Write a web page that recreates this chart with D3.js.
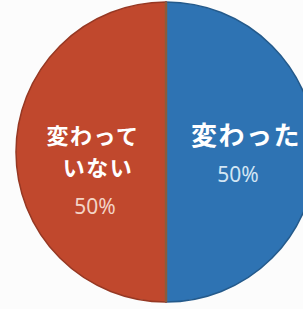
<!DOCTYPE html>
<html>
<head>
<meta charset="utf-8">
<script src="https://cdn.jsdelivr.net/npm/d3@7"></script>
<style>
  html, body { margin: 0; padding: 0; background: #fcfcfc; }
  svg { display: block; }
</style>
</head>
<body>
<div id="chart"></div>
<script>
// data
const categories = ["変わった", "変わっていない"];
const values = [50, 50];
const labelLines = [["変わった"], ["変わって", "いない"]];
const colors = ["#2e73b3", "#c0482d"];
const pctColors = ["#d3e6f4", "#f3d4c6"];

const width = 303, height = 309;
const cx = 166, cy = 152, radius = 150;

const svg = d3.select("#chart")
    .append("svg")
    .attr("width", width)
    .attr("height", height);

const g = svg.append("g")
    .attr("transform", "translate(" + cx + "," + cy + ")");

const pie = d3.pie().sort(null).value(d => d.value);
const data = pie(categories.map((c, i) => ({ name: c, value: values[i], i: i })));

const arc = d3.arc().innerRadius(0).outerRadius(radius);
const labelArc = d3.arc().innerRadius(0).outerRadius(152);

g.selectAll("path.slice")
    .data(data)
    .enter()
    .append("path")
    .attr("class", "slice")
    .attr("d", arc)
    .attr("fill", d => colors[d.data.i])
    .attr("stroke", d => d3.color(colors[d.data.i]).darker(0.7))
    .attr("stroke-width", 1.5);

// darker seam between the halves
g.append("line")
    .attr("x1", 0).attr("x2", 0)
    .attr("y1", -radius).attr("y2", radius)
    .attr("stroke", "#8a5c3c")
    .attr("stroke-width", 2.5);

const total = d3.sum(values);
const fmt = d3.format(".0%");

const labels = g.selectAll("g.label")
    .data(data)
    .enter()
    .append("g")
    .attr("class", "label")
    .attr("transform", function(d) {
        const c = labelArc.centroid(d);
        // nudge: right label a bit outward, left one a bit inward
        const dx = d.data.i === 0 ? 4 : 3;
        return "translate(" + (c[0] + dx) + "," + c[1] + ")";
    });

labels.each(function(d) {
    const el = d3.select(this);
    const lines = labelLines[d.data.i];
    const top = -16;
    const step = 32;
    const name = el.append("text")
        .attr("text-anchor", "middle")
        .attr("font-family", "'Noto Sans CJK JP', 'Noto Sans', sans-serif")
        .attr("font-weight", "bold")
        .attr("font-size", d.data.i === 0 ? 26 : 22)
        .attr("letter-spacing", 1.5)
        .attr("fill", "#ffffff");
    lines.forEach(function(t, k) {
        name.append("tspan")
            .attr("x", d.data.i === 1 && k === 1 ? 5 : 0)
            .attr("y", top + k * step)
            .attr("dy", "0.35em")
            .text(t);
    });
    el.append("text")
        .attr("x", d.data.i === 0 ? -8 : 2)
        .attr("y", top + (lines.length - 1) * step + 39)
        .attr("dy", "0.35em")
        .attr("text-anchor", "middle")
        .attr("font-family", "'Noto Sans', 'Open Sans', sans-serif")
        .attr("font-size", 21)
        .attr("fill", pctColors[d.data.i])
        .text(fmt(d.data.value / total));
});
</script>
</body>
</html>
